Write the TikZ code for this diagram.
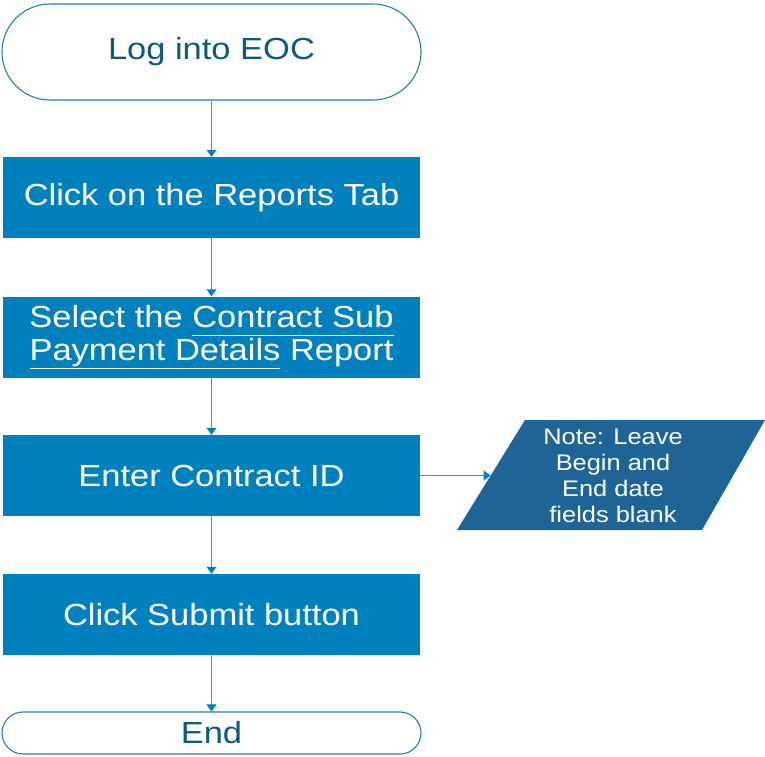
\documentclass[tikz,border=0pt]{standalone}
\usepackage{fontspec}
\setmainfont{Liberation Sans}[FakeStretch=1.13]
\usetikzlibrary{arrows.meta}

\definecolor{boxblue}{HTML}{0081BD}
\definecolor{noteblue}{HTML}{1F6496}
\definecolor{termline}{HTML}{2A7DAA}
\definecolor{termtext}{HTML}{0E5A78}
\definecolor{flowline}{HTML}{3C96CC}

% underline with a common depth for every word
\newcommand\ulword[1]{\underline{#1\vphantom{y}}}

\tikzset{
  stepbox/.style={draw=none, fill=boxblue, text=white, minimum width=417pt,
    minimum height=81pt, inner sep=0pt, align=center,
    font=\fontsize{30.5}{32}\selectfont},
  term/.style={draw=termline, line width=1.1pt, fill=white, text=termtext,
    minimum width=419pt, inner sep=0pt,
    font=\fontsize{30.5}{32}\selectfont},
  flow/.style={draw=flowline, line width=1pt,
    -{Triangle[length=7pt,width=10pt,color=boxblue]}},
}

\begin{document}
\begin{tikzpicture}[x=1pt,y=-1pt]
\useasboundingbox (0,0) rectangle (765,756);

% start and end terminators
\node[term, minimum height=96pt, rounded corners=48pt] (login) at (211.5,52) {\raisebox{-2pt}{Log into EOC}};
\node[term, minimum height=42pt, rounded corners=21pt] (finish) at (211.5,733) {End};

% process steps
\node[stepbox] (reports) at (211.5,197.5) {\raisebox{-1.5pt}{Click on the Reports Tab}};
\node[stepbox] (select)  at (211.5,337) {Select the \ulword{Contract Sub}\\[1.5pt]\ulword{Payment Details} Report};
\node[stepbox] (enter)   at (211.5,475.5) {\raisebox{-1.5pt}{Enter Contract ID}};
\node[stepbox] (submit)  at (211.5,614.5) {\raisebox{-1.5pt}{Click Submit button}};

% note parallelogram
\fill[noteblue] (525,420) -- (765,420) -- (702,530) -- (457,530) -- cycle;
\coordinate (noteW) at (490.5,475.5);
\node[text=white, align=center, inner sep=0pt,
  font=\fontsize{22.5}{26}\selectfont] (note) at (613,476)
  {Note: Leave\\Begin and\\End date\\fields blank};

% connectors
\draw[flow] (login) -- (reports);
\draw[flow] (reports) -- (select);
\draw[flow] (select) -- (enter);
\draw[flow] (enter) -- (submit);
\draw[flow] (submit) -- (finish);
\draw[flow] (enter.east) -- (noteW);
\end{tikzpicture}
\end{document}
